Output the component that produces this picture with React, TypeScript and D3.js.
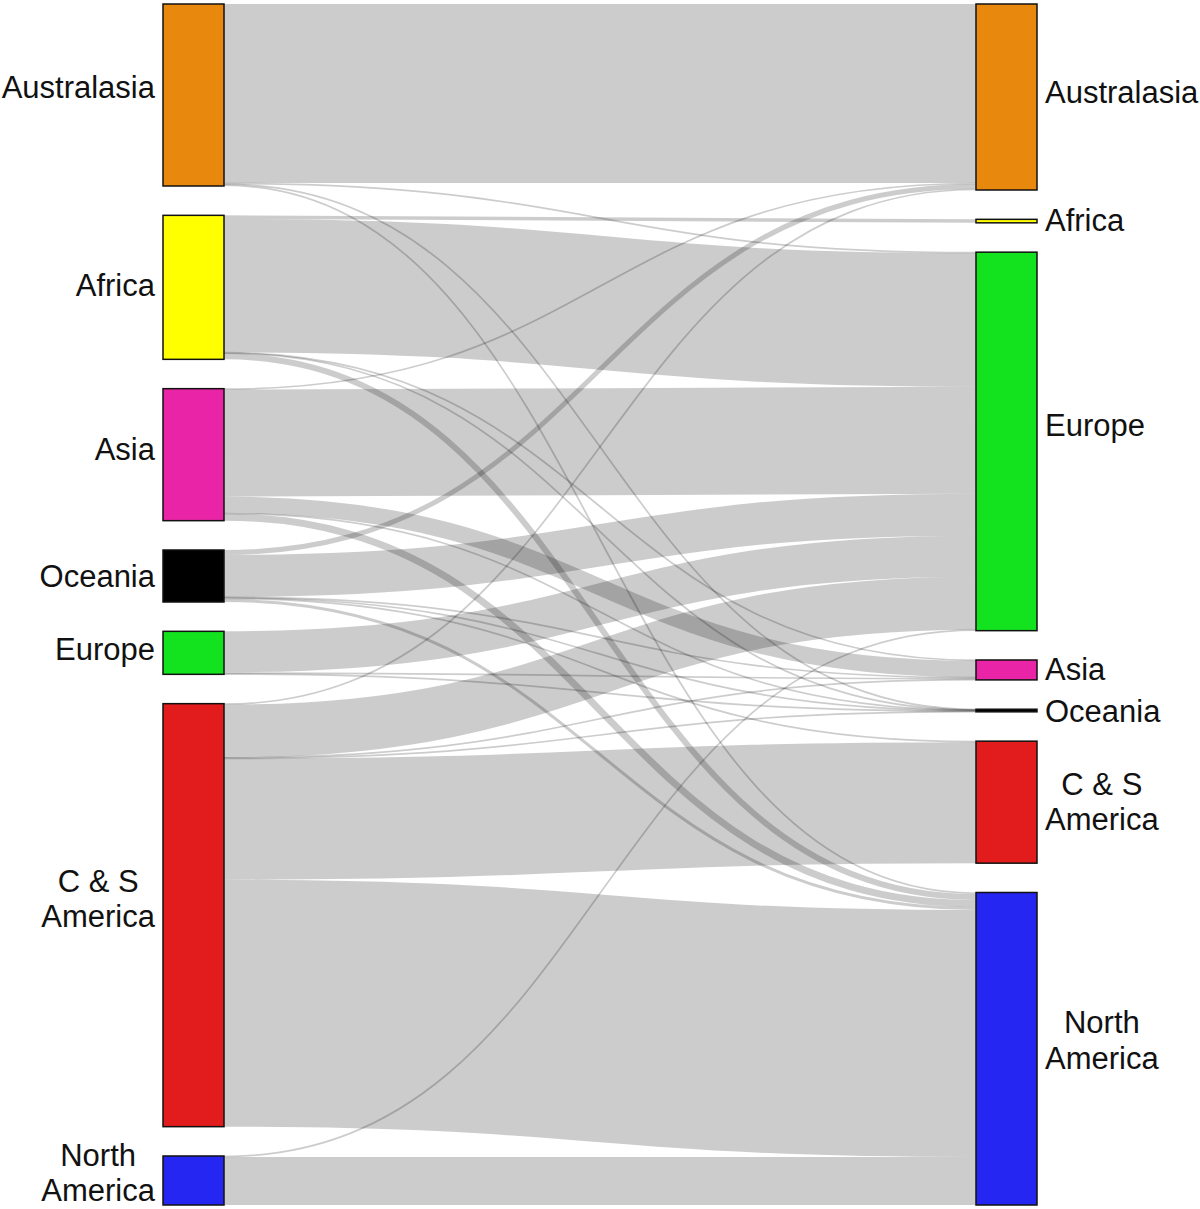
import React, { useMemo } from "react";
import * as d3 from "d3";

// ---------- data ----------
const leftNodes = ["Australasia", "Africa", "Asia", "Oceania", "Europe", "C & S America", "North America"];
const rightNodes = ["Australasia", "Africa", "Europe", "Asia", "Oceania", "C & S America", "North America"];

const regionColors: Record<string, string> = {
  Australasia: "#E8890D",
  Africa: "#FFFF00",
  Asia: "#EA24A6",
  Oceania: "#000000",
  Europe: "#12E31E",
  "C & S America": "#E21C1C",
  "North America": "#2626F2",
};

const labelLines: Record<string, string[]> = {
  Australasia: ["Australasia"],
  Africa: ["Africa"],
  Asia: ["Asia"],
  Oceania: ["Oceania"],
  Europe: ["Europe"],
  "C & S America": ["C & S", "America"],
  "North America": ["North", "America"],
};

// flows: [source (left), target (right), value]
const flows: [string, string, number][] = [
  ["Australasia", "Australasia", 179],
  ["Australasia", "Europe", 1],
  ["Australasia", "Oceania", 0.5],
  ["Australasia", "North America", 1.5],
  ["Africa", "Africa", 3.5],
  ["Africa", "Europe", 133.5],
  ["Africa", "Asia", 0.7],
  ["Africa", "Oceania", 0.3],
  ["Africa", "North America", 6],
  ["Asia", "Australasia", 1],
  ["Asia", "Europe", 107],
  ["Asia", "Asia", 16.7],
  ["Asia", "Oceania", 0.3],
  ["Asia", "North America", 7],
  ["Oceania", "Australasia", 5],
  ["Oceania", "Europe", 42],
  ["Oceania", "Asia", 0.5],
  ["Oceania", "Oceania", 0.5],
  ["Oceania", "C & S America", 1],
  ["Oceania", "North America", 3],
  ["Europe", "Europe", 41],
  ["Europe", "Asia", 1.5],
  ["Europe", "Oceania", 0.5],
  ["C & S America", "Australasia", 1],
  ["C & S America", "Europe", 53],
  ["C & S America", "Asia", 0.5],
  ["C & S America", "Oceania", 0.5],
  ["C & S America", "C & S America", 121],
  ["C & S America", "North America", 247],
  ["North America", "Europe", 1],
  ["North America", "North America", 48],
];

// label vertical nudges (px, relative to node centre)
const leftLabelNudge = [-8, -2, -6, 0, -3.5, -17, -8];
const rightLabelNudge = [-5, -1, -17, -1, 0, -1, -9];

// ---------- layout ----------
const W = 1200;
const H = 1209;
const NODE_W = 61;
const TOP = 4;
const BOTTOM = 1205;
const PAD = 29.33;
const FONT = 31;
const FONT_FAMILY = "'Liberation Sans', Arial, Helvetica, sans-serif";

function measure(text: string): number {
  const c = document.createElement("canvas").getContext("2d");
  if (!c) return text.length * FONT * 0.5;
  c.font = `${FONT}px ${FONT_FAMILY}`;
  return c.measureText(text).width;
}

export default function App() {
  const layout = useMemo(() => {
    const total = d3.sum(flows, (f) => f[2]);
    const n = leftNodes.length;
    const ky = (BOTTOM - TOP - (n - 1) * PAD) / total;
    const yScale = d3.scaleLinear().domain([0, total]).range([0, total * ky]);
    const xScale = d3.scaleLinear().domain([0, 1]).range([163, W - 163 - NODE_W]);

    const buildNodes = (names: string[], side: number, key: 0 | 1) => {
      let y = TOP;
      return names.map((name) => {
        const v = d3.sum(flows.filter((f) => f[key] === name), (f) => f[2]);
        const h = yScale(v);
        const node = { name, x0: xScale(side), x1: xScale(side) + NODE_W, y0: y, y1: y + h };
        y += h + PAD;
        return node;
      });
    };
    const L = buildNodes(leftNodes, 0, 0);
    const R = buildNodes(rightNodes, 1, 1);

    const links = flows.map(([s, t, v]) => ({
      s,
      t,
      v,
      si: leftNodes.indexOf(s),
      ti: rightNodes.indexOf(t),
      w: yScale(v),
      ys: 0,
      yt: 0,
    }));

    // source side offsets: order by target position
    L.forEach((node, i) => {
      let y = node.y0;
      links
        .filter((l) => l.si === i)
        .sort((a, b) => a.ti - b.ti)
        .forEach((l) => {
          l.ys = y + l.w / 2;
          y += l.w;
        });
    });
    // target side offsets: order by source position
    R.forEach((node, i) => {
      let y = node.y0;
      links
        .filter((l) => l.ti === i)
        .sort((a, b) => a.si - b.si)
        .forEach((l) => {
          l.yt = y + l.w / 2;
          y += l.w;
        });
    });

    const linkGen = d3.linkHorizontal();
    const paths = links.map((l) => ({
      key: `${l.s}-${l.t}`,
      d: linkGen({ source: [L[l.si].x1, l.ys], target: [R[l.ti].x0, l.yt] } as any) as string,
      w: Math.max(1.7, l.w),
    }));

    return { L, R, paths };
  }, []);

  const renderLabel = (name: string, node: any, side: "left" | "right", nudge: number) => {
    const lines = labelLines[name];
    const lh = 35.5;
    const cy = (node.y0 + node.y1) / 2 + nudge;
    const firstBaseline = cy - ((lines.length - 1) * lh) / 2 + FONT * 0.36;
    let x: number;
    let anchor: "start" | "end" | "middle";
    if (lines.length === 1) {
      x = side === "left" ? node.x0 - 8 : node.x1 + 8;
      anchor = side === "left" ? "end" : "start";
    } else {
      const maxW = d3.max(lines, (t) => measure(t)) || 0;
      x = side === "left" ? node.x0 - 8 - maxW / 2 : node.x1 + 8 + maxW / 2;
      anchor = "middle";
    }
    return (
      <text
        key={`${side}-${name}`}
        x={x}
        y={firstBaseline}
        textAnchor={anchor}
        fontSize={FONT}
        fontFamily={FONT_FAMILY}
        fill="#111"
      >
        {lines.map((t, i) => (
          <tspan key={i} x={x} dy={i === 0 ? 0 : lh}>
            {t}
          </tspan>
        ))}
      </text>
    );
  };

  return (
    <svg
      width={W}
      height={H}
      viewBox={`0 0 ${W} ${H}`}
      style={{ position: "absolute", left: 0, top: 0, display: "block", background: "#fff" }}
    >
      <g fill="none">
        {layout.paths.map((p) => (
          <path key={p.key} d={p.d} stroke="rgba(0,0,0,0.2)" strokeWidth={p.w} />
        ))}
      </g>
      <g>
        {layout.L.map((nd) => (
          <rect
            key={`L-${nd.name}`}
            x={nd.x0}
            y={nd.y0}
            width={NODE_W}
            height={Math.max(1, nd.y1 - nd.y0)}
            fill={regionColors[nd.name]}
            stroke="#111"
            strokeWidth={1.5}
          />
        ))}
        {layout.R.map((nd) => (
          <rect
            key={`R-${nd.name}`}
            x={nd.x0}
            y={nd.y0}
            width={NODE_W}
            height={Math.max(1, nd.y1 - nd.y0)}
            fill={regionColors[nd.name]}
            stroke="#111"
            strokeWidth={1.5}
          />
        ))}
      </g>
      <g>
        {layout.L.map((nd, i) => renderLabel(nd.name, nd, "left", leftLabelNudge[i]))}
        {layout.R.map((nd, i) => renderLabel(nd.name, nd, "right", rightLabelNudge[i]))}
      </g>
    </svg>
  );
}
